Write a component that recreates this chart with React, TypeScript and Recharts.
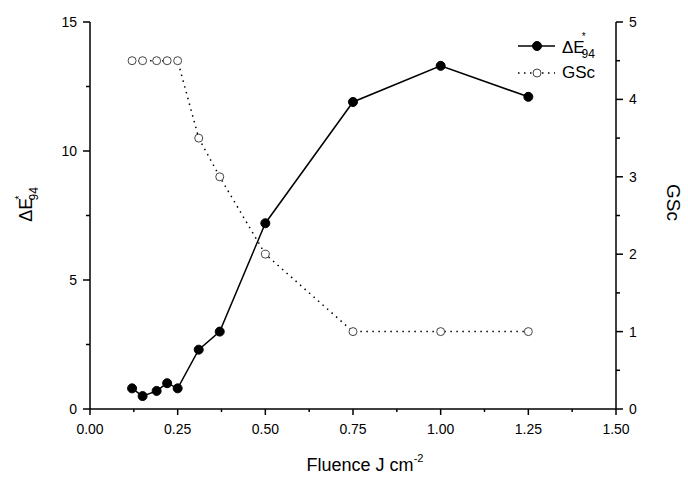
import React from 'react';
import { LineChart, Line, XAxis, YAxis, Legend, Label } from 'recharts';

const FONT = '"Liberation Sans", Arial, sans-serif';

const fluence = [0.12, 0.15, 0.19, 0.22, 0.25, 0.31, 0.37, 0.5, 0.75, 1.0, 1.25];
const deltaE = [0.8, 0.5, 0.7, 1.0, 0.8, 2.3, 3.0, 7.2, 11.9, 13.3, 12.1];
const gsc = [4.5, 4.5, 4.5, 4.5, 4.5, 3.5, 3.0, 2.0, 1.0, 1.0, 1.0];

const xTicks = [0, 0.125, 0.25, 0.375, 0.5, 0.625, 0.75, 0.875, 1.0, 1.125, 1.25, 1.375, 1.5];
const xMajor = [0, 0.25, 0.5, 0.75, 1.0, 1.25, 1.5];
const leftTicks = [0, 2.5, 5, 7.5, 10, 12.5, 15];
const leftMajor = [0, 5, 10, 15];
const rightTicks = [0, 0.5, 1, 1.5, 2, 2.5, 3, 3.5, 4, 4.5, 5];
const rightMajor = [0, 1, 2, 3, 4, 5];

const data = fluence.map((f, i) => ({ f, de: deltaE[i], gsc: gsc[i] }));

const isIn = (arr: number[], v: number) => arr.some((m) => Math.abs(m - v) < 1e-9);

const BottomTick = (p: any) => {
  const { x, y, payload } = p;
  const v = payload.value;
  const major = isIn(xMajor, v);
  return (
    <g>
      <line x1={x} y1={y} x2={x} y2={y + (major ? 6 : 3)} stroke="#000" strokeWidth={1.5} />
      {major && (
        <text x={x} y={y + 25} textAnchor="middle" fontSize={14} fill="#000" fontFamily={FONT}>
          {v.toFixed(2)}
        </text>
      )}
    </g>
  );
};

const TopTick = (p: any) => {
  const { x, y, payload } = p;
  const major = isIn(xMajor, payload.value);
  return <line x1={x} y1={y} x2={x} y2={y + (major ? 5 : 3)} stroke="#000" strokeWidth={1.5} />;
};

const LeftTick = (p: any) => {
  const { x, y, payload } = p;
  const v = payload.value;
  const major = isIn(leftMajor, v);
  return (
    <g>
      <line x1={x - (major ? 7 : 4)} y1={y} x2={x} y2={y} stroke="#000" strokeWidth={1.5} />
      {major && (
        <text x={x - 13} y={y + 5} textAnchor="end" fontSize={14} fill="#000" fontFamily={FONT}>
          {String(v)}
        </text>
      )}
    </g>
  );
};

const RightTick = (p: any) => {
  const { x, y, payload } = p;
  const v = payload.value;
  const major = isIn(rightMajor, v);
  return (
    <g>
      <line x1={x} y1={y} x2={x + (major ? 7 : 4)} y2={y} stroke="#000" strokeWidth={1.5} />
      {major && (
        <text x={x + 13} y={y + 5} textAnchor="start" fontSize={14} fill="#000" fontFamily={FONT}>
          {String(v)}
        </text>
      )}
    </g>
  );
};

const LeftTitle = (props: any) => {
  const vb = props.viewBox || { x: 30, y: 22, width: 60, height: 387 };
  const cx = vb.x + 2;
  const cy = vb.y + vb.height / 2 - 11;
  return (
    <text
      x={cx}
      y={cy}
      transform={`rotate(-90, ${cx}, ${cy})`}
      textAnchor="middle"
      fontSize={18}
      fill="#000"
      fontFamily={FONT}
    >
      ΔE
      <tspan fontSize={11} dy={-9} dx={-2}>*</tspan>
      <tspan fontSize={12} dy={15} dx={-5}>94</tspan>
    </text>
  );
};

const RightTitle = (props: any) => {
  const vb = props.viewBox || { x: 616, y: 22, width: 50, height: 387 };
  const cx = vb.x + 51;
  const cy = vb.y + vb.height / 2 - 13;
  return (
    <text
      x={cx}
      y={cy}
      transform={`rotate(90, ${cx}, ${cy})`}
      textAnchor="middle"
      fontSize={19}
      fill="#000"
      fontFamily={FONT}
    >
      GSc
    </text>
  );
};

const BottomTitle = (props: any) => {
  const vb = props.viewBox || { x: 90, y: 409, width: 526, height: 50 };
  const cx = vb.x + vb.width / 2 + 12;
  const cy = vb.y + 62;
  return (
    <text x={cx} y={cy} textAnchor="middle" fontSize={18} fill="#000" fontFamily={FONT}>
      Fluence J cm
      <tspan fontSize={11} dy={-9}>-2</tspan>
    </text>
  );
};

const LegendBox = () => (
  <svg width={130} height={60} style={{ overflow: 'visible' }}>
    <line x1={8} y1={16} x2={45} y2={16} stroke="#000" strokeWidth={1.5} />
    <circle cx={27} cy={16} r={4.5} fill="#000" stroke="#000" />
    <text x={52} y={23} fontSize={17} fill="#000" fontFamily={FONT}>
      ΔE
      <tspan fontSize={10} dy={-13} dx={-3}>*</tspan>
      <tspan fontSize={12} dy={18} dx={-4}>94</tspan>
    </text>
    <line x1={8} y1={43} x2={45} y2={43} stroke="#000" strokeWidth={1.5} strokeDasharray="1.5 4.5" />
    <circle cx={27} cy={43} r={4} fill="#fff" stroke="#444" strokeWidth={1} />
    <text x={52} y={48} fontSize={17} fill="#000" fontFamily={FONT}>
      GSc
    </text>
  </svg>
);

export default function App() {
  return (
    <div style={{ position: 'absolute', left: 0, top: 0, background: '#fff' }}>
      <LineChart
        width={688}
        height={480}
        data={data}
        margin={{ top: 22, right: 22, bottom: 21, left: 30 }}
      >
        <XAxis
          xAxisId="bottom"
          dataKey="f"
          type="number"
          domain={[0, 1.5]}
          ticks={xTicks}
          interval={0}
          tickSize={0}
          tickMargin={0}
          tick={<BottomTick />}
          tickLine={false}
          axisLine={{ stroke: '#000', strokeWidth: 1.5 }}
          height={50}
        >
          <Label content={<BottomTitle />} />
        </XAxis>
        <XAxis
          xAxisId="top"
          orientation="top"
          dataKey="f"
          type="number"
          domain={[0, 1.5]}
          ticks={xTicks}
          interval={0}
          tickSize={0}
          tickMargin={0}
          tick={<TopTick />}
          tickLine={false}
          axisLine={{ stroke: '#000', strokeWidth: 1.5 }}
          height={0}
        />
        <YAxis
          yAxisId="left"
          type="number"
          domain={[0, 15]}
          ticks={leftTicks}
          interval={0}
          tickSize={0}
          tickMargin={0}
          tick={<LeftTick />}
          tickLine={false}
          axisLine={{ stroke: '#000', strokeWidth: 1.5 }}
          width={60}
        >
          <Label content={<LeftTitle />} />
        </YAxis>
        <YAxis
          yAxisId="right"
          orientation="right"
          type="number"
          domain={[0, 5]}
          ticks={rightTicks}
          interval={0}
          tickSize={0}
          tickMargin={0}
          tick={<RightTick />}
          tickLine={false}
          axisLine={{ stroke: '#000', strokeWidth: 1.5 }}
          width={50}
        >
          <Label content={<RightTitle />} />
        </YAxis>
        <Legend
          layout="horizontal"
          verticalAlign="middle"
          align="center"
          content={<LegendBox />}
          wrapperStyle={{ position: 'absolute', left: 510, top: 30, width: 130, height: 60 }}
        />
        <Line
          xAxisId="bottom"
          yAxisId="right"
          dataKey="gsc"
          name="GSc"
          type="linear"
          stroke="#000"
          strokeWidth={1.5}
          strokeDasharray="1.5 4.5"
          dot={{ r: 4, fill: '#fff', stroke: '#444', strokeWidth: 1, strokeDasharray: '' }}
          activeDot={false}
          isAnimationActive={false}
        />
        <Line
          xAxisId="bottom"
          yAxisId="left"
          dataKey="de"
          name="ΔE*94"
          type="linear"
          stroke="#000"
          strokeWidth={1.5}
          dot={{ r: 4.5, fill: '#000', stroke: '#000', strokeWidth: 1 }}
          activeDot={false}
          isAnimationActive={false}
        />
      </LineChart>
    </div>
  );
}
